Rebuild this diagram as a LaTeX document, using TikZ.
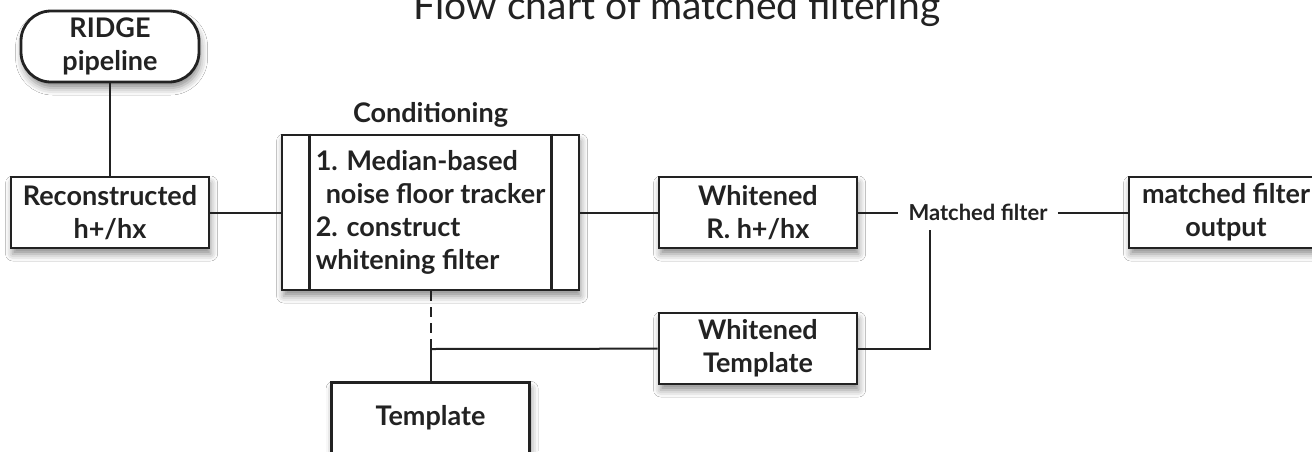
\documentclass[tikz,border=0pt]{standalone}
\usepackage{fontspec}
\setmainfont{Lato}
\usetikzlibrary{shadows.blur}

\definecolor{ink}{HTML}{222222}

\tikzset{
  shade box/.style={blur shadow={shadow xshift=0.8pt, shadow yshift=-3pt, shadow blur radius=3.5pt, shadow opacity=45}},
  box/.style={draw=ink, line width=1.4pt, fill=white, shade box, minimum width=99pt, minimum height=35.5pt,
    inner sep=1pt, align=center, text=ink, font=\fontsize{13.5}{16.5}\selectfont\bfseries},
  roundbox/.style={box, rounded corners=15pt, minimum width=89pt},
  boxline/.style={draw=ink, line width=1.4pt},
  link/.style={draw=ink, line width=1pt},
  tag/.style={text=ink, inner sep=5pt, font=\fontsize{11}{13}\selectfont\bfseries},
  heading/.style={text=ink, font=\fontsize{13.5}{16}\selectfont\bfseries},
  title/.style={text=ink, font=\fontsize{19.5}{23}\selectfont}
}

\begin{document}
\begin{tikzpicture}[x=0.5pt, y=-0.5pt]
  \fill[white] (0,0) rectangle (1312,451);
  \useasboundingbox (0,0) rectangle (1312,451);

  % Title
  \node[title, anchor=base] (title) at (677,19) {Flow chart of matched filtering};

  % Boxes
  \node[roundbox] (ridge) at (110,46.5) {RIDGE\\pipeline};
  \node[box] (recon) at (110,212.5) {Reconstructed\\h+/hx};
  \node[box, minimum width=148.5pt, minimum height=77.5pt, align=left] (cond) at (430.5,212.5)
    {1. Median-based\\\hspace*{5pt}noise floor tracker\\2. construct\\whitening filter};
  \draw[boxline] ([xshift=14.5pt]cond.north west) -- ([xshift=14.5pt]cond.south west);
  \draw[boxline] ([xshift=-14.5pt]cond.north east) -- ([xshift=-14.5pt]cond.south east);
  \node[heading, anchor=base] (condhead) at ([yshift=5.5pt]cond.north) {Conditioning};
  \node[box] (wr) at (758,212.5) {Whitened\\R. h+/hx};
  \node[tag] (mf) at (978,212.5) {Matched filter};
  \node[box, minimum width=97pt] (out) at (1226,212.5) {matched filter\\output};
  \node[box] (wt) at (758,348.5) {Whitened\\Template};
  \node[box] (tmpl) at (430.5,418) {Template};

  % Joints
  \coordinate (junc) at (430.5,349);
  \coordinate (tap) at (930,230);

  % Connectors
  \draw[link] (ridge) -- (recon);
  \draw[link] (recon) -- (cond);
  \draw[link] (cond) -- (wr);
  \draw[link] (wr) -- (mf);
  \draw[link] (mf) -- (out);
  \draw[link, dash pattern=on 5pt off 3pt] (cond) -- (junc);
  \draw[link] (junc) -- (tmpl);
  \draw[link] (junc) -- (wt);
  \draw[link] (wt) -| (tap);
\end{tikzpicture}
\end{document}
